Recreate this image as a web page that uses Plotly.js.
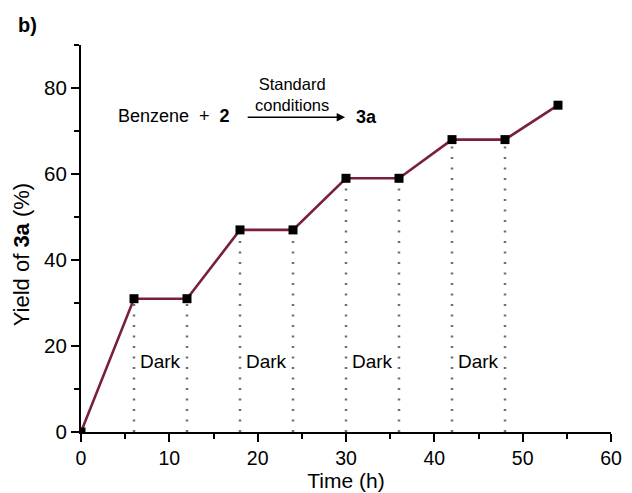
<!DOCTYPE html>
<html>
<head>
<meta charset="utf-8">
<script src="https://cdn.plot.ly/plotly-3.0.1.min.js"></script>
<style>html,body{margin:0;padding:0;background:#fff;}#chart{width:632px;height:493px;}</style>
</head>
<body>
<div id="chart"></div>
<script>
var timeH = [0, 6, 12, 18, 24, 30, 36, 42, 48, 54];
var yieldPct = [0, 31, 31, 47, 47, 59, 59, 68, 68, 76];
var darkX = [9, 21, 33, 45];
var darkY = 16.3;
var darkLabel = "Dark";
var xTicks = [0, 10, 20, 30, 40, 50, 60];
var yTicks = [0, 20, 40, 60, 80];

var font = "Liberation Sans, Arial, Helvetica, sans-serif";

// dotted guide lines from each interior point down to the axis
var gx = [], gy = [];
for (var i = 1; i < timeH.length - 1; i++) {
  gx.push(timeH[i], timeH[i], null);
  gy.push(0, yieldPct[i], null);
}

var traces = [
  {x: gx, y: gy, mode: 'lines', line: {color: '#6e6e6e', width: 2.5, dash: '2px,8.5px'}, hoverinfo: 'skip', showlegend: false},
  {x: timeH, y: yieldPct, mode: 'lines+markers', line: {color: '#7a1f3d', width: 2.6},
   marker: {symbol: 'square', size: 9, color: '#000'}, showlegend: false}
];

var annotations = [];
darkX.forEach(function (dx) {
  annotations.push({x: dx, y: darkY, xref: 'x', yref: 'y', text: darkLabel, showarrow: false,
    font: {family: font, size: 19, color: '#000'}});
});
annotations.push(
  {x: 4.0, y: 73.4, xref: 'x', yref: 'y', xanchor: 'left', text: 'Benzene  +  <b>2</b>', showarrow: false,
   font: {family: font, size: 18, color: '#000'}},
  {x: 29.9, y: 73.2, ax: 18.7, ay: 73.2, xref: 'x', yref: 'y', axref: 'x', ayref: 'y', text: '',
   showarrow: true, arrowhead: 2, arrowsize: 1.3, arrowwidth: 1.3, arrowcolor: '#000'},
  {x: 23.9, y: 78.6, xref: 'x', yref: 'y', text: 'Standard<br>conditions', showarrow: false, borderpad: 0,
   font: {family: font, size: 16.5, color: '#000'}},
  {x: 30.9, y: 73.3, xref: 'x', yref: 'y', xanchor: 'left', text: '<b>3a</b>', showarrow: false,
   font: {family: font, size: 18, color: '#000'}},
  {x: (21 - 80.7) / 530, y: (432 - 254) / 387, xref: 'paper', yref: 'paper', xanchor: 'center', yanchor: 'middle',
   text: 'Yield of <b>3a</b> (%)', textangle: -90, showarrow: false,
   font: {family: font, size: 22, color: '#000'}},
  {x: (16 - 80.7) / 530, y: 1 + (45 - 25) / 387, xref: 'paper', yref: 'paper', text: '<b>b)</b>', showarrow: false,
   xanchor: 'left', yanchor: 'middle',
   font: {family: font, size: 20, color: '#000'}}
);

var layout = {
  width: 632, height: 493,
  margin: {l: 80.7, r: 21.3, t: 45, b: 61, pad: 0},
  paper_bgcolor: '#fff', plot_bgcolor: '#fff',
  showlegend: false,
  xaxis: {
    range: [0, 60], tickvals: xTicks, ticktext: xTicks.map(String),
    showgrid: false, zeroline: false, showline: true, linecolor: '#000', linewidth: 2,
    ticks: 'outside', ticklen: 8, tickwidth: 2, tickcolor: '#000',
    minor: {dtick: 5, tick0: 0, ticks: 'outside', ticklen: 5, tickwidth: 2, tickcolor: '#000', showgrid: false},
    tickfont: {family: font, size: 19.5, color: '#000'},
    title: {text: 'Time (h)', font: {family: font, size: 21, color: '#000'}, standoff: 5},
    fixedrange: true
  },
  yaxis: {
    range: [0, 90], tickvals: yTicks, ticktext: yTicks.map(String),
    showgrid: false, zeroline: false, showline: true, linecolor: '#000', linewidth: 2,
    ticks: 'outside', ticklen: 8, tickwidth: 2, tickcolor: '#000',
    minor: {dtick: 10, tick0: 0, ticks: 'outside', ticklen: 5, tickwidth: 2, tickcolor: '#000', showgrid: false},
    tickfont: {family: font, size: 20.5, color: '#000'},
    fixedrange: true
  },
  annotations: annotations
};

Plotly.newPlot('chart', traces, layout, {displayModeBar: false, staticPlot: true});
</script>
</body>
</html>
